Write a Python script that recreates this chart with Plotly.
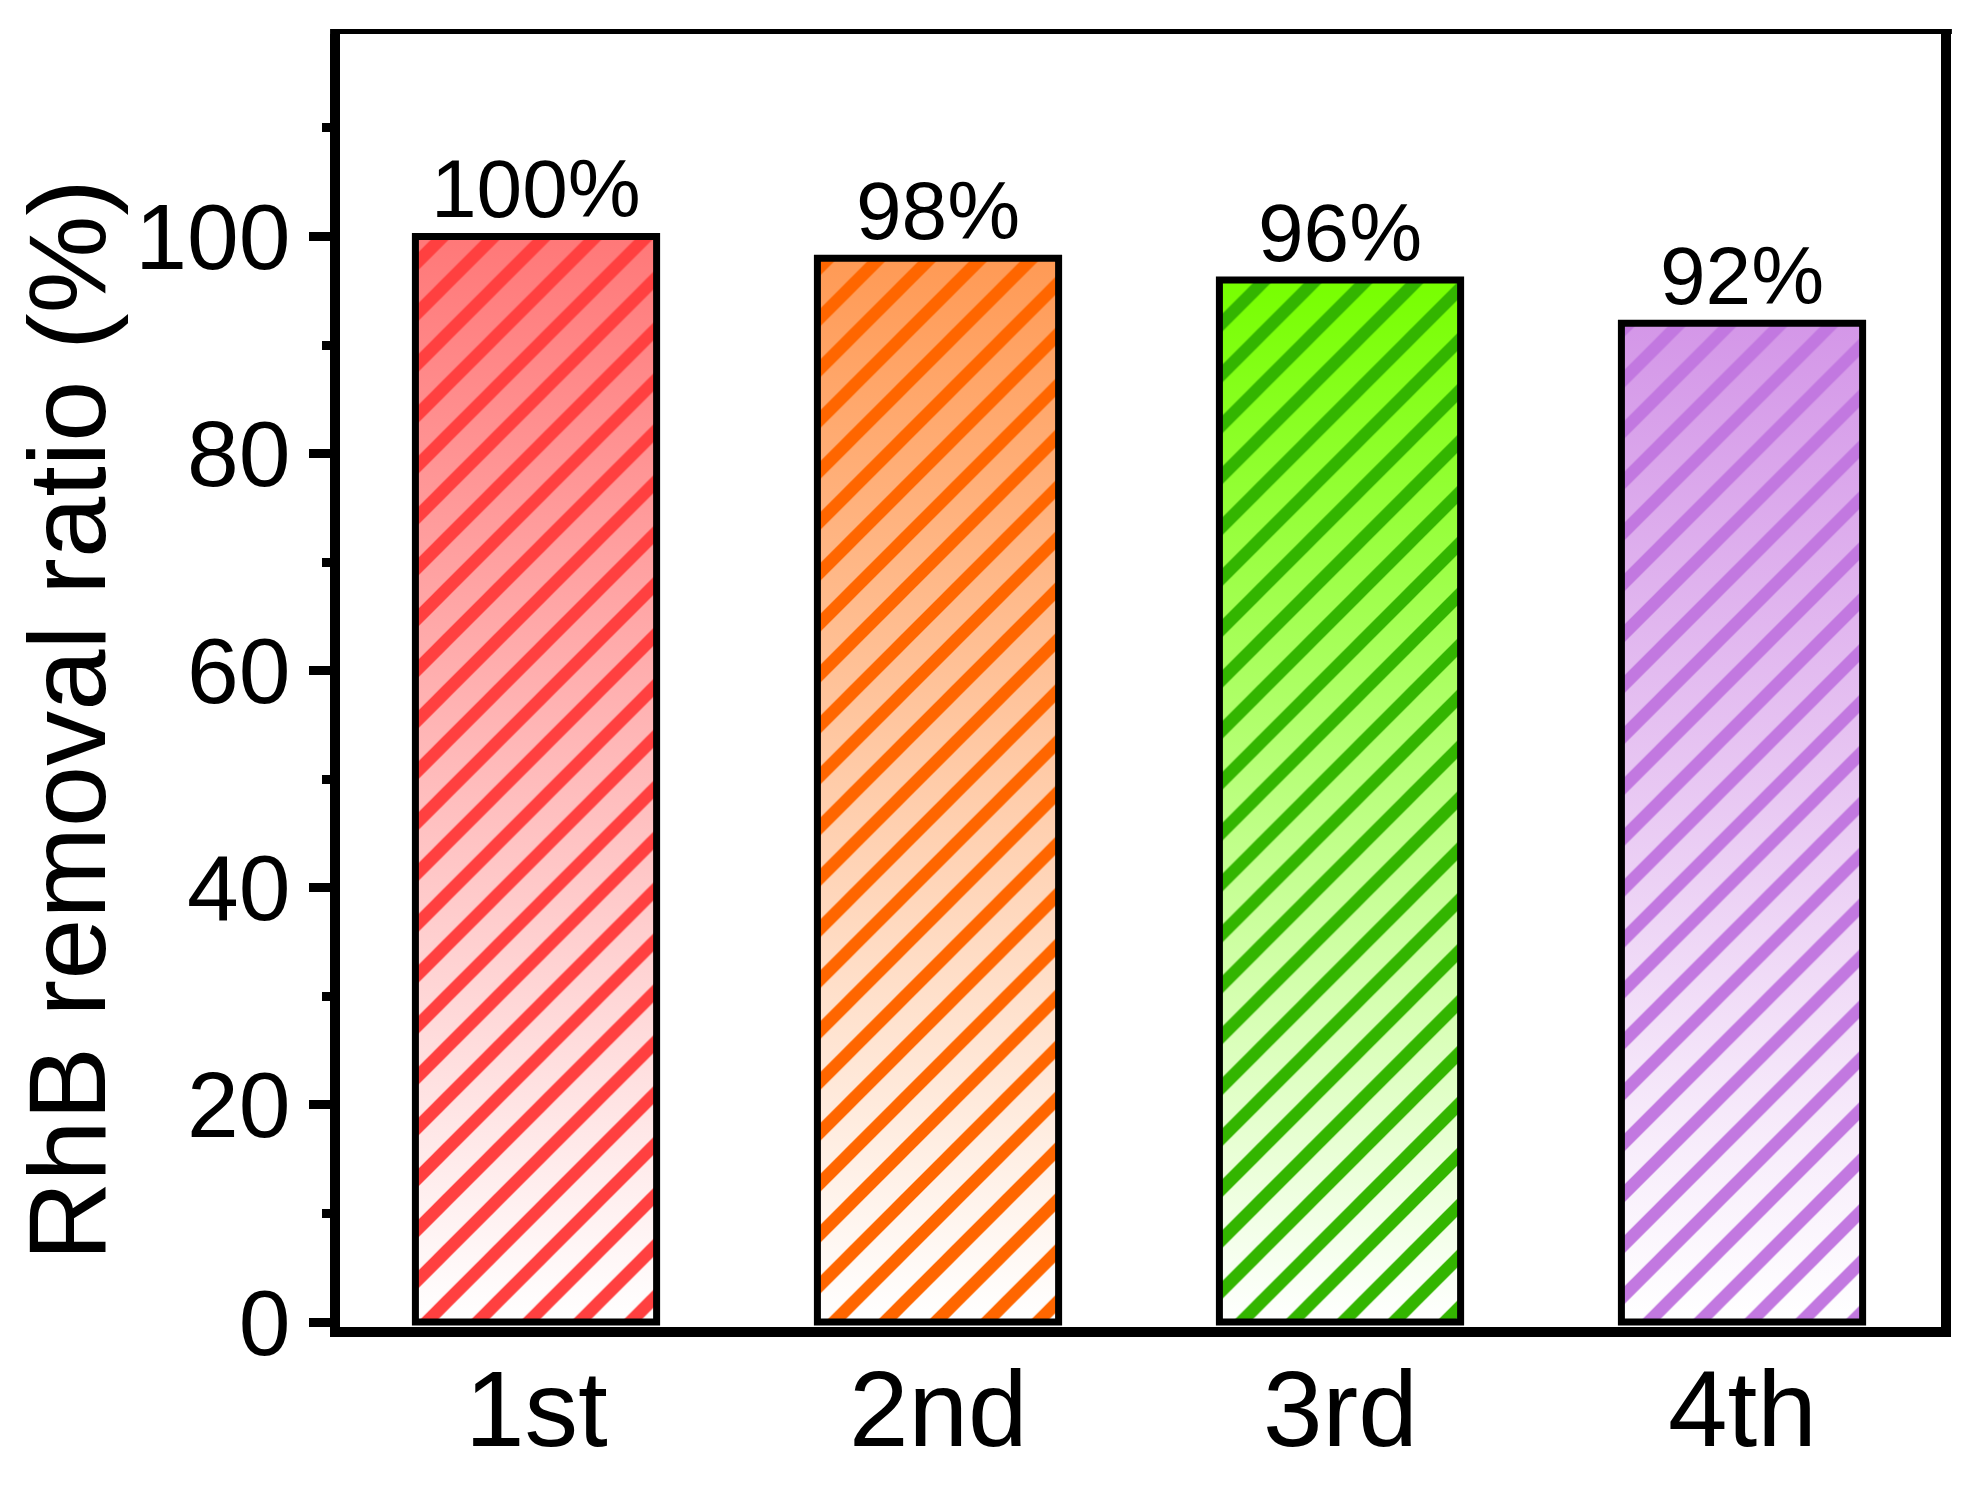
import plotly.graph_objects as go

categories = ["1st", "2nd", "3rd", "4th"]
removal = [100, 98, 96, 92]
labels = ["100%", "98%", "96%", "92%"]
top_colors = ["#FF7878", "#FF9A55", "#77FF00", "#D497E8"]
hatch_colors = ["#FF4040", "#FF6600", "#33B500", "#C278E0"]

FONT = "Liberation Sans, Arial, sans-serif"
W = 0.6
xpos = list(range(len(categories)))
XR = [-0.4876, 3.495]
YR = [-0.457, 118.65]

fig = go.Figure()

# gradient fills (white at bottom -> colour at top), base subplot
for i, v in enumerate(removal):
    fig.add_trace(go.Scatter(
        x=[i - W / 2, i + W / 2, i + W / 2, i - W / 2, i - W / 2],
        y=[0, 0, v, v, 0],
        mode="none", fill="toself",
        fillgradient=dict(type="vertical",
                          colorscale=[[0, "#FFFFFF"], [1, top_colors[i]]]),
        hoverinfo="skip", showlegend=False,
        xaxis="x", yaxis="y",
    ))

# hatched bars with outline, on overlaid subplot (drawn on top)
fig.add_trace(go.Bar(
    x=xpos, y=removal, width=W,
    marker=dict(
        color="rgba(0,0,0,0)",
        line=dict(color="black", width=7),
        pattern=dict(shape="/", fgcolor=hatch_colors, bgcolor="rgba(0,0,0,0)",
                     fgopacity=1, size=36, solidity=0.35, fillmode="overlay"),
    ),
    showlegend=False,
    xaxis="x2", yaxis="y2",
))

# value labels above bars
for i, v in enumerate(removal):
    fig.add_annotation(x=i, y=v, xref="x", yref="y", text=labels[i], showarrow=False,
                       yanchor="bottom", yshift=0,
                       font=dict(family=FONT, size=82, color="black"))

# category labels under the axis
for i, c in enumerate(categories):
    fig.add_annotation(x=i, y=0, xref="x", yref="paper", text=c, showarrow=False,
                       yanchor="top", yshift=-20,
                       font=dict(family=FONT, size=107, color="black"))

fig.add_annotation(xref="paper", yref="paper", x=-0.1705, y=0.4695,
                   text="RhB removal ratio (%)", textangle=-90, showarrow=False,
                   xanchor="center", yanchor="middle",
                   font=dict(family=FONT, size=110, color="black"))

fig.add_shape(type="line", xref="paper", yref="paper",
              x0=-0.0062, x1=1.0068, y0=1.0019, y1=1.0019,
              line=dict(color="black", width=5))

fig.update_layout(
    width=1963, height=1475,
    margin=dict(l=332, r=30, t=26, b=156),
    paper_bgcolor="white", plot_bgcolor="white",
    font=dict(family=FONT, color="black"),
    bargap=0.4,
    xaxis=dict(
        range=XR, tickvals=xpos, showticklabels=False,
        showline=True, linewidth=10, linecolor="black", mirror=False,
        ticks="", showgrid=False, zeroline=False,
    ),
    yaxis=dict(
        range=YR, tickvals=[0, 20, 40, 60, 80, 100],
        showline=True, linewidth=10, linecolor="black", mirror=True,
        ticks="outside", ticklen=21, tickwidth=9, tickcolor="black",
        minor=dict(ticks="outside", ticklen=8, tickwidth=9, tickcolor="black",
                   tickvals=[10, 30, 50, 70, 90, 110]),
        showgrid=False, zeroline=False,
        tickfont=dict(family=FONT, size=93),
    ),
    xaxis2=dict(range=XR, overlaying="x", visible=False),
    yaxis2=dict(range=YR, overlaying="y", visible=False),
)

fig.write_html("out.html")
